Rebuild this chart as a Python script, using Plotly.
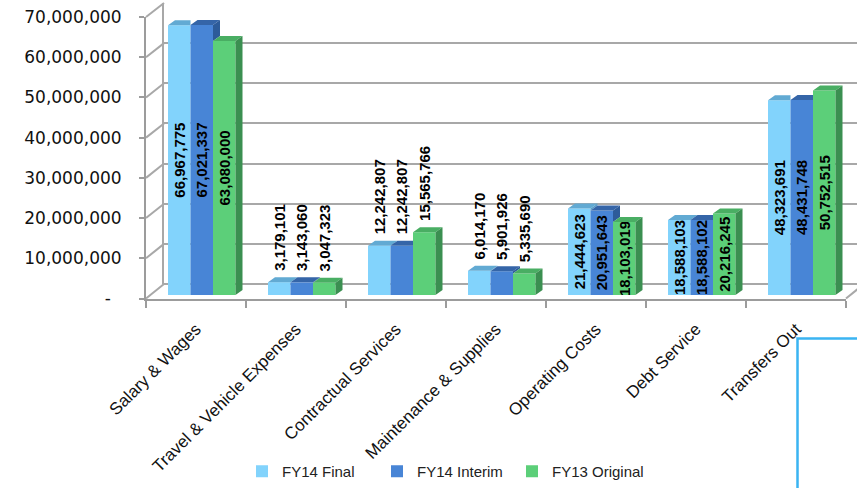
import plotly.graph_objects as go

# ---------------- data ----------------
categories = ["Salary & Wages", "Travel & Vehicle Expenses", "Contractual Services",
              "Maintenance & Supplies", "Operating Costs", "Debt Service", "Transfers Out"]
fy14_final = [66967775, 3179101, 12242807, 6014170, 21444623, 18588103, 48323691]
fy14_interim = [67021337, 3143060, 12242807, 5901926, 20951643, 18588102, 48431748]
fy13_original = [63080000, 3047323, 15565766, 5335690, 18103019, 20216245, 50752515]
series_names = ["FY14 Final", "FY14 Interim", "FY13 Original"]
y_tick_values = [0, 10000000, 20000000, 30000000, 40000000, 50000000, 60000000, 70000000]
y_tick_labels = ["-\u00a0\u00a0", "10,000,000", "20,000,000", "30,000,000", "40,000,000",
                 "50,000,000", "60,000,000", "70,000,000"]
label_pos = ["inside", "outside", "outside", "outside", "inside", "inside", "inside"]

# ---------------- styling ----------------
W, H = 857, 488
front_c = ["#82d3fc", "#4885d6", "#5ccf79"]
top_c = ["#62aad3", "#3565a8", "#49ae63"]
side_c = ["#5a9fc8", "#2d5b99", "#3b8f51"]
BAR_W = 0.225
OFFS = [-0.28, -0.055, 0.17]
YMAX = 70000000

def px_x(p):
    return p / W

def px_y(p):
    return (H - p) / H

ydom_bars = [px_y(295), px_y(13)]      # bars: 0 at y=295, 70M at y=13
ydom_front = [px_y(298.5), px_y(17)]   # front axis
ydom_back = [px_y(284), px_y(3)]       # back wall
xdom = [px_x(146), px_x(846)]
xdom_back = [px_x(164), 1.0]

px_per_unit_y = (295 - 13) / YMAX
DX = 7 / 100.0
DY = 5 / px_per_unit_y

values = [fy14_final, fy14_interim, fy13_original]
grid_c = "#a8a8a8"
axis_c = "#9c9c9c"


def label_text(v, pos):
    txt = f"{v:,}"
    # outside labels sit a little higher above the 3D top face
    return ("\u00a0\u00a0" + txt) if pos == "outside" else txt


fig = go.Figure()

# back wall subplot (drawn first, underneath)
fig.add_trace(go.Scatter(x=[None], y=[None], xaxis="x", yaxis="y", showlegend=False, hoverinfo="skip"))
# front axes subplot
fig.add_trace(go.Scatter(x=[None], y=[None], xaxis="x2", yaxis="y2", showlegend=False, hoverinfo="skip"))

for s, (name, vals) in enumerate(zip(series_names, values)):
    fig.add_trace(go.Bar(
        x=list(range(len(categories))), y=vals, name=name,
        width=BAR_W, offset=OFFS[s],
        marker=dict(color=front_c[s], line=dict(width=0)),
        text=[label_text(v, p) for v, p in zip(vals, label_pos)], textangle=-90,
        textposition=label_pos, insidetextanchor="middle",
        constraintext="none", cliponaxis=False,
        textfont=dict(family="Liberation Sans", size=15, color="black", weight="bold"),
        insidetextfont=dict(family="Liberation Sans", size=15, color="black", weight="bold"),
        outsidetextfont=dict(family="Liberation Sans", size=15, color="black", weight="bold"),
        hoverinfo="skip", xaxis="x3", yaxis="y3",
    ))

# 3D faces (top and side) computed from the data
for s in range(3):
    tx, ty, sx, sy = [], [], [], []
    for i in range(len(categories)):
        v = values[s][i]
        x0 = i + OFFS[s]
        x1 = x0 + BAR_W
        last = (s == 2)
        vn = None if last else values[s + 1][i]
        if last or vn <= v:
            pts = [(x0, v), (x1, v), (x1 + DX, v + DY), (x0 + DX, v + DY)]
        else:
            pts = [(x0, v), (x1, v), (x1, v + DY), (x0 + DX, v + DY)]
        for a, b in pts:
            tx.append(a); ty.append(b)
        tx.append(None); ty.append(None)
        if last:
            spts = [(x1, 0), (x1, v), (x1 + DX, v + DY), (x1 + DX, DY)]
        elif v > vn:
            spts = [(x1, vn), (x1, v), (x1 + DX, v + DY), (x1 + DX, vn + DY)]
        else:
            spts = []
        for a, b in spts:
            sx.append(a); sy.append(b)
        if spts:
            sx.append(None); sy.append(None)
    fig.add_trace(go.Scatter(x=tx, y=ty, fill="toself", fillcolor=top_c[s], mode="lines",
                             line=dict(width=0, color=top_c[s]), showlegend=False,
                             hoverinfo="skip", xaxis="x3", yaxis="y3"))
    if sx:
        fig.add_trace(go.Scatter(x=sx, y=sy, fill="toself", fillcolor=side_c[s], mode="lines",
                                 line=dict(width=0, color=side_c[s]), showlegend=False,
                                 hoverinfo="skip", xaxis="x3", yaxis="y3"))

# depth lines on the left wall and floor
shapes = []
for v in y_tick_values:
    yf = ydom_front[0] + v / YMAX * (ydom_front[1] - ydom_front[0])
    yb = ydom_back[0] + v / YMAX * (ydom_back[1] - ydom_back[0])
    shapes.append(dict(type="line", xref="paper", yref="paper", x0=xdom[0], y0=yf,
                       x1=xdom_back[0], y1=yb, line=dict(color=grid_c, width=2), layer="below"))
shapes.append(dict(type="line", xref="paper", yref="paper", x0=xdom[1], y0=ydom_front[0],
                   x1=xdom[1] + (xdom_back[0] - xdom[0]), y1=ydom_back[0],
                   line=dict(color=grid_c, width=2), layer="below"))
# blue selection frame at the bottom right
shapes.append(dict(type="rect", xref="paper", yref="paper", x0=px_x(797.5), x1=1.02,
                   y0=-0.05, y1=px_y(338.5), line=dict(color="#3ab4f2", width=2.5),
                   fillcolor="rgba(0,0,0,0)", layer="above"))

fig.update_layout(
    width=W, height=H,
    margin=dict(l=0, r=0, t=0, b=0, pad=0),
    paper_bgcolor="white", plot_bgcolor="rgba(0,0,0,0)",
    barmode="overlay",
    shapes=shapes,
    showlegend=True,
    legend=dict(orientation="h", x=px_x(242), y=0, xanchor="left", yanchor="bottom",
                font=dict(family="Liberation Sans", size=15, color="#222222"),
                itemwidth=30, entrywidth=90, entrywidthmode="pixels",
                traceorder="normal", bgcolor="rgba(0,0,0,0)"),
    # back wall
    xaxis=dict(domain=xdom_back, range=[0, 1], anchor="y", visible=False, fixedrange=True),
    yaxis=dict(domain=ydom_back, range=[0, YMAX], anchor="x", fixedrange=True,
               showline=True, linecolor=grid_c, linewidth=2, showgrid=True, gridcolor=grid_c,
               gridwidth=2, zeroline=True, zerolinecolor=grid_c, zerolinewidth=2,
               tickmode="array", tickvals=y_tick_values, showticklabels=False, ticks="",
               automargin=False),
    # front axes
    xaxis2=dict(domain=xdom, range=[-0.5, 6.5], anchor="y2", fixedrange=True,
                showline=True, linecolor=axis_c, linewidth=2, showgrid=False, zeroline=False,
                tickmode="array", tickvals=list(range(len(categories))), ticktext=categories,
                ticks="", tickangle=-45, ticklabelstandoff=12,
                tickfont=dict(family="Liberation Sans", size=17, color="#111111"),
                minor=dict(tickmode="array", tickvals=[i - 0.5 for i in range(len(categories) + 1)],
                           ticks="outside", ticklen=7, tickwidth=2, tickcolor=axis_c, showgrid=False),
                automargin=False),
    yaxis2=dict(domain=ydom_front, range=[0, YMAX], anchor="x2", fixedrange=True,
                showline=True, linecolor=axis_c, linewidth=2, showgrid=False, zeroline=False,
                tickmode="array", tickvals=y_tick_values, ticktext=y_tick_labels,
                ticks="outside", ticklen=5, tickwidth=2, tickcolor=axis_c, ticklabelstandoff=14,
                tickfont=dict(family="DejaVu Sans", size=17, color="#111111"),
                automargin=False),
    # bars
    xaxis3=dict(domain=xdom, range=[-0.5, 6.5], anchor="y3", visible=False, fixedrange=True),
    yaxis3=dict(domain=ydom_bars, range=[0, YMAX], anchor="x3", visible=False, fixedrange=True),
)

fig.write_html("out.html")
